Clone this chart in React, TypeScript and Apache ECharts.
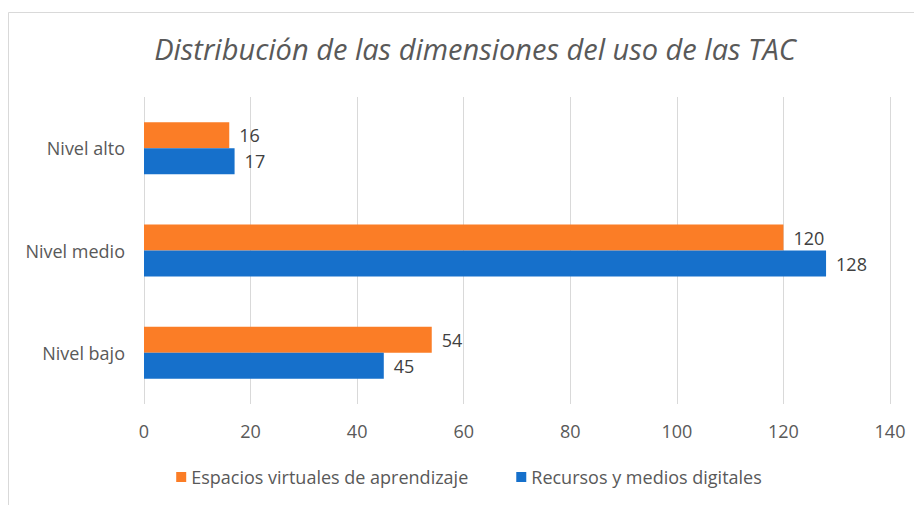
import React, { useEffect, useRef } from "react";
import * as echarts from "echarts";

const categories = ["Nivel bajo", "Nivel medio", "Nivel alto"];
const espacios = [54, 120, 16];
const recursos = [45, 128, 17];
const seriesNames = ["Espacios virtuales de aprendizaje", "Recursos y medios digitales"];
const titleText = "Distribución de las dimensiones del uso de las TAC";

const FONT = "'Open Sans', 'Noto Sans', sans-serif";

export default function App() {
  const ref = useRef<HTMLDivElement>(null);
  useEffect(() => {
    if (!ref.current) return;
    const chart = echarts.init(ref.current, null, { renderer: "svg" });
    chart.setOption({
      animation: false,
      backgroundColor: "#ffffff",
      graphic: [
        {
          type: "rect",
          shape: { x: 0.5, y: 4.5, width: 930, height: 520 },
          style: { fill: "none", stroke: "#d9d9d9", lineWidth: 1 },
          z: -1,
        },
      ],
      title: {
        text: titleText,
        left: 462,
        top: 21,
        textAlign: "center",
        textStyle: {
          fontFamily: FONT,
          fontStyle: "italic",
          fontWeight: "normal",
          fontSize: 29,
          color: "#595959",
        },
      },
      legend: {
        data: seriesNames,
        left: "center",
        top: 455,
        itemWidth: 10,
        itemHeight: 10,
        itemGap: 48,
        icon: "rect",
        textStyle: { fontFamily: FONT, fontSize: 18, color: "#595959" },
      },
      grid: { left: 136, right: 40, top: 89, bottom: 109 },
      xAxis: {
        type: "value",
        min: 0,
        max: 140,
        interval: 20,
        axisLine: { show: false },
        axisTick: { show: false },
        splitLine: { lineStyle: { color: "#d9d9d9" } },
        axisLabel: { fontFamily: FONT, fontSize: 18, color: "#595959", margin: 18 },
      },
      yAxis: {
        type: "category",
        data: categories,
        axisLine: { show: false },
        axisTick: { show: false },
        axisLabel: { fontFamily: FONT, fontSize: 18, color: "#595959", margin: 19 },
      },
      series: [
        {
          name: seriesNames[0],
          type: "bar",
          data: espacios,
          barWidth: 26,
          barGap: "0%",
          itemStyle: { color: "#FB7D26" },
          label: {
            show: true,
            position: "right",
            distance: 10,
            fontFamily: FONT,
            fontSize: 18,
            color: "#404040",
          },
        },
        {
          name: seriesNames[1],
          type: "bar",
          data: recursos,
          barWidth: 26,
          barGap: "0%",
          itemStyle: { color: "#1670CB" },
          label: {
            show: true,
            position: "right",
            distance: 10,
            fontFamily: FONT,
            fontSize: 18,
            color: "#404040",
          },
        },
      ],
    });
    return () => chart.dispose();
  }, []);
  return <div ref={ref} style={{ width: 922, height: 505 }} />;
}
